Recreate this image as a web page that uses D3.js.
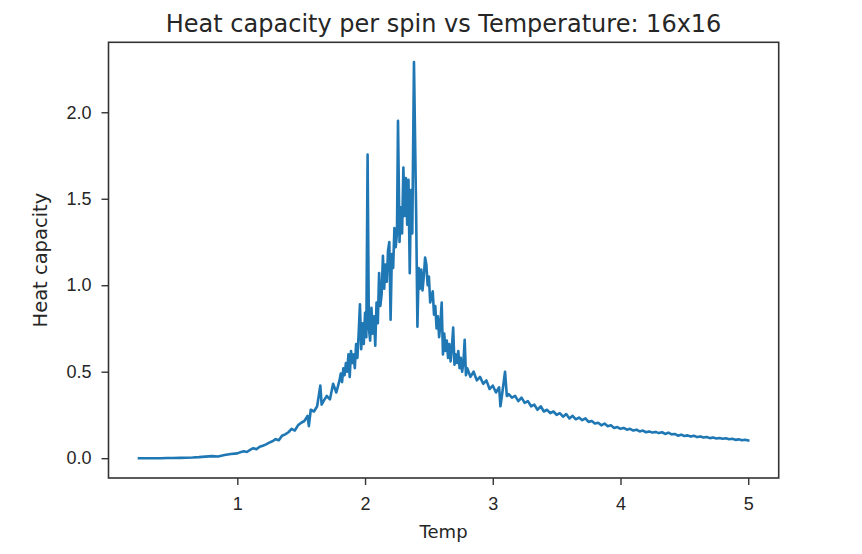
<!DOCTYPE html>
<html>
<head>
<meta charset="utf-8">
<script src="https://cdn.jsdelivr.net/npm/d3@7"></script>
<style>
  body { margin: 0; background: #fff; }
  svg { display: block; font-family: "DejaVu Sans", sans-serif; }
  .tick text { fill: #262626; font-size: 18px; }
  .tick line { stroke: #333; stroke-width: 1.4; }
</style>
</head>
<body>
<div id="chart"></div>
<script>
// Heat capacity per spin vs temperature, 16x16 lattice

const temps = [
  0.23, 0.25, 0.30, 0.35, 0.40, 0.45, 0.50, 0.55, 0.60, 0.65, 0.70, 0.75, 0.80, 0.85, 0.90, 0.95, 1.00,
  1.025, 1.05, 1.075, 1.10, 1.125, 1.15, 1.175, 1.20, 1.225, 1.25, 1.275, 1.30, 1.325, 1.35, 1.375, 1.40,
  1.425, 1.45, 1.475, 1.50, 1.525, 1.55, 1.56, 1.575, 1.60, 1.625, 1.65, 1.66, 1.675, 1.70, 1.725, 1.75,
  1.775, 1.80,
  1.81, 1.82, 1.83, 1.84, 1.85, 1.86, 1.87, 1.88, 1.89, 1.90,
  1.91, 1.92, 1.93, 1.94, 1.95, 1.96, 1.97, 1.98, 1.99, 2.00,
  2.01, 2.02, 2.03, 2.04, 2.05, 2.06, 2.07, 2.08, 2.09, 2.10,
  2.11, 2.12, 2.13, 2.14, 2.15, 2.16, 2.17, 2.18, 2.19, 2.20,
  2.21, 2.22, 2.23, 2.24, 2.25, 2.258, 2.27, 2.28, 2.29, 2.30,
  2.31, 2.32, 2.33, 2.34, 2.35, 2.36, 2.37, 2.383, 2.40, 2.41,
  2.42, 2.43, 2.44, 2.45, 2.46, 2.47, 2.48, 2.49, 2.50, 2.51,
  2.52, 2.53, 2.54, 2.55, 2.56, 2.57, 2.58, 2.59, 2.60, 2.61,
  2.62, 2.63, 2.64, 2.65, 2.66, 2.67, 2.68, 2.69, 2.70, 2.71,
  2.72, 2.73, 2.74, 2.75, 2.76, 2.77, 2.78, 2.79, 2.80,
  2.825, 2.85, 2.875, 2.90, 2.925, 2.95, 2.975, 3.00, 3.025, 3.05,
  3.06, 3.075, 3.096, 3.11, 3.125, 3.15, 3.175, 3.20, 3.225, 3.25,
  3.275, 3.30, 3.325, 3.35, 3.375, 3.40, 3.425, 3.45, 3.475, 3.50,
  3.525, 3.55, 3.575, 3.60, 3.625, 3.65, 3.675, 3.70, 3.725, 3.75,
  3.775, 3.80, 3.825, 3.85, 3.875, 3.90, 3.925, 3.95, 3.975, 4.00,
  4.025, 4.05, 4.075, 4.10, 4.125, 4.15, 4.175, 4.20, 4.225, 4.25,
  4.275, 4.30, 4.325, 4.35, 4.375, 4.40, 4.425, 4.45, 4.475, 4.50,
  4.525, 4.55, 4.575, 4.60, 4.625, 4.65, 4.675, 4.70, 4.725, 4.75,
  4.775, 4.80, 4.825, 4.85, 4.875, 4.90, 4.925, 4.95, 4.975, 5.00
];

const heatCapacity = [
  0.000, 0.000, 0.000, 0.000, 0.000, 0.001, 0.001, 0.002, 0.003, 0.004, 0.006, 0.009, 0.012, 0.010, 0.018, 0.024, 0.028,
  0.035, 0.040, 0.036, 0.048, 0.058, 0.052, 0.066, 0.072, 0.080, 0.090, 0.098, 0.110, 0.104, 0.130, 0.138, 0.150,
  0.170, 0.160, 0.190, 0.205, 0.215, 0.245, 0.185, 0.280, 0.270, 0.300, 0.420, 0.310, 0.330, 0.360, 0.340, 0.430,
  0.380, 0.450,
  0.49, 0.44, 0.52, 0.48, 0.55, 0.50, 0.60, 0.47, 0.62, 0.55,
  0.60, 0.52, 0.66, 0.58, 0.72, 0.89, 0.63, 0.78, 0.66, 0.84,
  0.70, 1.755, 0.75, 0.68, 0.87, 0.72, 0.82, 0.65, 0.90, 0.78,
  1.07, 0.88, 0.95, 1.17, 0.98, 1.12, 1.02, 1.20, 1.25, 0.80,
  1.18, 1.10, 1.33, 1.22, 1.30, 1.95, 1.25, 1.45, 1.30, 1.68,
  1.40, 1.62, 1.35, 1.61, 1.07, 1.55, 1.30, 2.29, 1.42, 0.76,
  1.10, 0.98, 1.09, 0.97, 1.05, 1.16, 1.12, 1.00, 1.05, 0.90,
  0.93, 0.965, 0.83, 0.88, 0.75, 0.82, 0.70, 0.78, 0.90, 0.60,
  0.72, 0.62, 0.68, 0.58, 0.66, 0.56, 0.64, 0.755, 0.54, 0.60,
  0.55, 0.62, 0.52, 0.58, 0.50, 0.55, 0.685, 0.48, 0.52,
  0.47, 0.50, 0.45, 0.47, 0.43, 0.45, 0.40, 0.42, 0.38, 0.41,
  0.30, 0.38, 0.50, 0.36, 0.37, 0.35, 0.36, 0.33, 0.35, 0.32,
  0.33, 0.30, 0.31, 0.28, 0.30, 0.27, 0.28, 0.26, 0.27, 0.25,
  0.26, 0.24, 0.255, 0.23, 0.245, 0.225, 0.235, 0.22, 0.23, 0.21,
  0.215, 0.20, 0.205, 0.19, 0.20, 0.185, 0.19, 0.175, 0.18, 0.17,
  0.175, 0.165, 0.17, 0.16, 0.165, 0.155, 0.16, 0.15, 0.155, 0.148,
  0.152, 0.145, 0.15, 0.14, 0.148, 0.138, 0.14, 0.13, 0.136, 0.128,
  0.132, 0.125, 0.13, 0.122, 0.126, 0.12, 0.123, 0.116, 0.12, 0.114,
  0.117, 0.112, 0.115, 0.11, 0.112, 0.106, 0.109, 0.104, 0.107, 0.103
];

const xTicks = [1, 2, 3, 4, 5];
const yTicks = [0, 0.5, 1.0, 1.5, 2.0];

const chartTitle = "Heat capacity per spin vs Temperature: 16x16";
const xLabel = "Temp";
const yLabel = "Heat capacity";

const totalWidth = 862;
const totalHeight = 554;
const margin = { top: 42.3, right: 83.3, bottom: 76, left: 108.5 };
const width = totalWidth - margin.left - margin.right;
const height = totalHeight - margin.top - margin.bottom;
const lineColor = "#1f77b4";

const data = temps.map((t, i) => ({ temp: t, cap: heatCapacity[i] }));

// Create SVG
const svg = d3.select("#chart")
  .append("svg")
  .attr("width", totalWidth)
  .attr("height", totalHeight);

const innerChart = svg.append("g")
  .attr("transform", `translate(${margin.left}, ${margin.top})`);

// Scales with matplotlib-style 5% padding
const xExtent = d3.extent(data, d => d.temp);
const yExtent = d3.extent(data, d => d.cap);
const xPad = (xExtent[1] - xExtent[0]) * 0.05;
const yPad = (yExtent[1] - yExtent[0]) * 0.05;

const xScale = d3.scaleLinear()
  .domain([xExtent[0] - xPad, xExtent[1] + xPad])
  .range([0, width]);

const yScale = d3.scaleLinear()
  .domain([yExtent[0] - yPad, yExtent[1] + yPad])
  .range([height, 0]);

// Line
const line = d3.line()
  .x(d => xScale(d.temp))
  .y(d => yScale(d.cap));

innerChart.append("path")
  .datum(data)
  .attr("fill", "none")
  .attr("stroke", lineColor)
  .attr("stroke-width", 2.6)
  .attr("stroke-linejoin", "round")
  .attr("stroke-linecap", "square")
  .attr("d", line);

// X axis
const xAxis = innerChart.append("g")
  .attr("transform", `translate(0, ${height})`)
  .call(d3.axisBottom(xScale).tickValues(xTicks).tickFormat(d3.format("d"))
    .tickSize(7).tickPadding(12));
xAxis.select(".domain").remove();

// Y axis
const yAxis = innerChart.append("g")
  .call(d3.axisLeft(yScale).tickValues(yTicks).tickFormat(d3.format(".1f"))
    .tickSize(7).tickPadding(10));
yAxis.select(".domain").remove();

// Frame
innerChart.append("rect")
  .attr("width", width)
  .attr("height", height)
  .attr("fill", "none")
  .attr("stroke", "#333")
  .attr("stroke-width", 1.6);

// Axis labels
innerChart.append("text")
  .attr("x", width / 2)
  .attr("y", height + 60)
  .attr("text-anchor", "middle")
  .attr("fill", "#262626")
  .style("font-size", "18px")
  .text(xLabel);

innerChart.append("text")
  .attr("transform", "rotate(-90)")
  .attr("x", -height / 2)
  .attr("y", -62)
  .attr("text-anchor", "middle")
  .attr("fill", "#262626")
  .style("font-size", "19.5px")
  .text(yLabel);

// Title
svg.append("text")
  .attr("x", margin.left + width / 2)
  .attr("y", 32)
  .attr("text-anchor", "middle")
  .attr("fill", "#262626")
  .style("font-size", "24px")
  .text(chartTitle);
</script>
</body>
</html>
